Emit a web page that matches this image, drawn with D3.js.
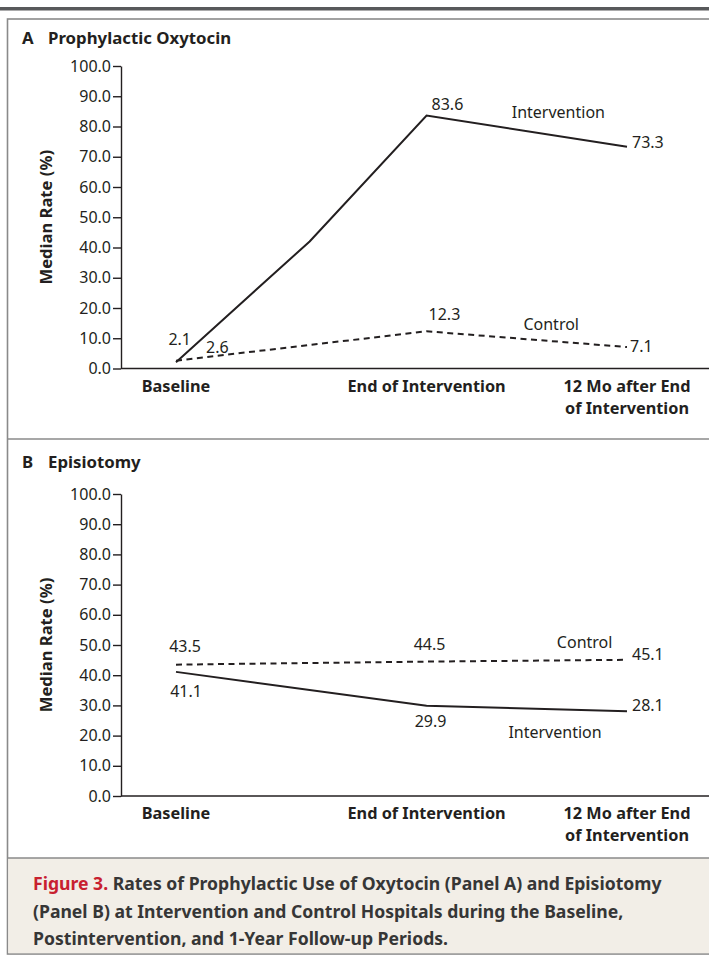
<!DOCTYPE html>
<html>
<head>
<meta charset="utf-8">
<script src="https://cdn.jsdelivr.net/npm/d3@7"></script>
<style>
  html, body { margin: 0; padding: 0; background: #fff; }
  svg { display: block; font-family: "Noto Sans", "Open Sans", sans-serif; }
  .axis text { font-family: "Noto Sans", sans-serif; font-size: 16px; fill: #231f20; }
  .axis line, .axis .domain { stroke: #231f20; stroke-width: 1.4px; }
  .cat-label { font-size: 16.3px; font-weight: 700; fill: #231f20; }
  .panel-title { font-size: 16.8px; font-weight: 700; fill: #231f20; }
  .y-title { font-size: 16.6px; font-weight: 700; fill: #231f20; }
  .val-label, .series-label { font-size: 16px; fill: #231f20; }
  .caption { font-size: 17.6px; font-weight: 700; fill: #363636; }
</style>
</head>
<body>
<svg id="chart" width="709" height="961"></svg>
<script>
// ---------- DATA ----------
const CATEGORY_LINES = [["Baseline"], ["End of Intervention"], ["12 Mo after End", "of Intervention"]];
const PERIOD_MONTHS = [0, 15, 27];           // position of each period on the time axis
const Y_TICKS = [0, 10, 20, 30, 40, 50, 60, 70, 80, 90, 100];

// Panel A - prophylactic oxytocin (intervention line has an extra unlabeled mid reading)
const OXY_INT_MONTHS = [0, 8, 15, 27];
const OXY_INT_VALUES = [2.1, 42.0, 83.6, 73.3];
const OXY_INT_SHOW = [true, false, true, true];
const OXY_CTRL_VALUES = [2.6, 12.3, 7.1];

// Panel B - episiotomy
const EPI_INT_VALUES = [41.1, 29.9, 28.1];
const EPI_CTRL_VALUES = [43.5, 44.5, 45.1];

const CAPTION_LINES = [
  "Rates of Prophylactic Use of Oxytocin (Panel A) and Episiotomy",
  "(Panel B) at Intervention and Control Hospitals during the Baseline,",
  "Postintervention, and 1-Year Follow-up Periods."
];

// ---------- LAYOUT ----------
const W = 709;
const svg = d3.select("#chart");

const x = d3.scaleLinear().domain([0, 27]).range([176, 627]);

// frame
svg.append("rect").attr("x", 0).attr("y", 7).attr("width", W).attr("height", 3.5).attr("fill", "#58595b");
svg.append("rect").attr("x", 7.5).attr("y", 19).attr("width", W + 10).attr("height", 935)
  .attr("fill", "none").attr("stroke", "#8a8a8a").attr("stroke-width", 1.6);
svg.append("rect").attr("x", 8.3).attr("y", 858).attr("width", W).attr("height", 95.2).attr("fill", "#f2eee7");
svg.append("line").attr("x1", 7.5).attr("x2", W).attr("y1", 439).attr("y2", 439)
  .attr("stroke", "#8a8a8a").attr("stroke-width", 1.6);
svg.append("line").attr("x1", 7.5).attr("x2", W).attr("y1", 858).attr("y2", 858)
  .attr("stroke", "#8a8a8a").attr("stroke-width", 1.6);

function drawPanel(cfg) {
  const y = d3.scaleLinear().domain([0, 100]).range([cfg.bottom, cfg.top]);
  const g = svg.append("g");

  // title
  const t = g.append("text").attr("class", "panel-title").attr("x", 22).attr("y", cfg.titleY);
  t.append("tspan").text(cfg.letter);
  t.append("tspan").attr("x", 48).text(cfg.title);

  // y axis
  g.append("g")
    .attr("class", "axis")
    .attr("transform", "translate(121,0)")
    .call(d3.axisLeft(y).tickValues(Y_TICKS).tickSize(8).tickSizeOuter(0).tickPadding(2)
      .tickFormat(d3.format(".1f")))
    .attr("font-size", null)
    .attr("font-family", null);

  g.append("text")
    .attr("class", "y-title")
    .attr("transform", `translate(52,${(cfg.top + cfg.bottom) / 2}) rotate(-90)`)
    .attr("text-anchor", "middle")
    .text("Median Rate (%)");

  // x axis line runs to the edge of the figure
  g.append("line")
    .attr("x1", 121).attr("x2", W).attr("y1", y(0)).attr("y2", y(0))
    .attr("stroke", "#231f20").attr("stroke-width", 1.4);

  PERIOD_MONTHS.forEach((m, i) => {
    const lbl = g.append("text").attr("class", "cat-label").attr("text-anchor", "middle")
      .attr("y", y(0) + 23);
    CATEGORY_LINES[i].forEach((line, j) => {
      lbl.append("tspan").attr("x", x(m)).attr("dy", j === 0 ? 0 : 22).text(line);
    });
  });

  const line = d3.line().x((d) => x(d.m)).y((d) => y(d.v));

  cfg.series.forEach((s) => {
    const pts = s.values.map((v, i) => ({ m: s.months[i], v: v, show: s.show ? s.show[i] : true }));
    g.append("path")
      .datum(pts)
      .attr("d", line)
      .attr("fill", "none")
      .attr("stroke", "#231f20")
      .attr("stroke-width", 2)
      .attr("stroke-dasharray", s.dashed ? "6,4.5" : null);

    const shown = pts.filter((d) => d.show);
    g.selectAll(null)
      .data(shown)
      .join("text")
      .attr("class", "val-label")
      .attr("x", (d, i) => x(d.m) + s.offsets[i][0])
      .attr("y", (d, i) => y(d.v) + s.offsets[i][1])
      .attr("text-anchor", (d, i) => s.offsets[i][2] || "start")
      .text((d) => d.v.toFixed(1));

    g.append("text")
      .attr("class", "series-label")
      .attr("x", x(s.nameAt[0]))
      .attr("y", y(s.nameAt[1]))
      .text(s.name);
  });
}

drawPanel({
  letter: "A", title: "Prophylactic Oxytocin", titleY: 44, top: 66, bottom: 368.5,
  series: [
    {
      name: "Intervention", months: OXY_INT_MONTHS, values: OXY_INT_VALUES, show: OXY_INT_SHOW,
      offsets: [[15, -17, "end"], [5, -6], [5, 1.5]], nameAt: [20.1, 82.8]
    },
    {
      name: "Control", months: PERIOD_MONTHS, values: OXY_CTRL_VALUES, dashed: true,
      offsets: [[30, -8], [2, -11], [3, 5]], nameAt: [20.8, 12.7]
    }
  ]
});

drawPanel({
  letter: "B", title: "Episiotomy", titleY: 468, top: 494, bottom: 796,
  series: [
    {
      name: "Intervention", months: PERIOD_MONTHS, values: EPI_INT_VALUES,
      offsets: [[10, 25, "middle"], [4, 21, "middle"], [5, 0]], nameAt: [19.9, 19.2]
    },
    {
      name: "Control", months: PERIOD_MONTHS, values: EPI_CTRL_VALUES, dashed: true,
      offsets: [[9, -12.5, "middle"], [3, -11.5, "middle"], [5, 0]], nameAt: [22.8, 49.0]
    }
  ]
});

// caption
const cap = svg.append("g");
CAPTION_LINES.forEach((line, i) => {
  const t = cap.append("text").attr("class", "caption").attr("x", 33).attr("y", 890 + i * 27.5);
  if (i === 0) {
    t.append("tspan").attr("fill", "#c8202f").text("Figure 3. ");
  }
  t.append("tspan").text(line);
});
</script>
</body>
</html>
